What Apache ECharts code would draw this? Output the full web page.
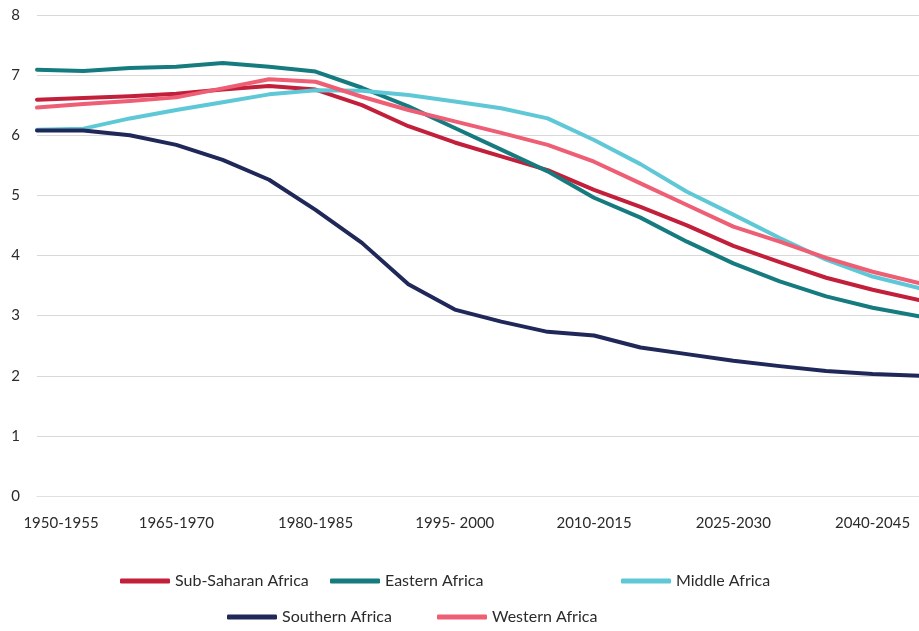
<!DOCTYPE html>
<html>
<head>
<meta charset="utf-8">
<script src="https://cdn.jsdelivr.net/npm/echarts@6/dist/echarts.min.js"></script>
<style>
html,body{margin:0;padding:0;background:#fff;}
#chart{width:919px;height:631px;}
</style>
</head>
<body>
<div id="chart"></div>
<script>
const categories = ['1950-1955','1955-1960','1960-1965','1965-1970','1970-1975','1975-1980','1980-1985','1985-1990','1990-1995','1995- 2000','2000-2005','2005-2010','2010-2015','2015-2020','2020-2025','2025-2030','2030-2035','2035-2040','2040-2045','2045-2050'];
const subSaharan = [6.59, 6.62, 6.65, 6.69, 6.76, 6.82, 6.76, 6.50, 6.15, 5.88, 5.65, 5.42, 5.09, 4.81, 4.50, 4.16, 3.89, 3.63, 3.43, 3.26];
const eastern    = [7.09, 7.07, 7.12, 7.14, 7.20, 7.14, 7.06, 6.79, 6.48, 6.12, 5.76, 5.40, 4.96, 4.63, 4.23, 3.87, 3.57, 3.32, 3.13, 2.99];
const middle     = [6.09, 6.11, 6.28, 6.42, 6.55, 6.68, 6.75, 6.74, 6.67, 6.56, 6.45, 6.28, 5.92, 5.52, 5.06, 4.68, 4.29, 3.93, 3.65, 3.46];
const southern   = [6.08, 6.08, 6.00, 5.84, 5.59, 5.26, 4.76, 4.21, 3.52, 3.10, 2.90, 2.73, 2.67, 2.47, 2.36, 2.25, 2.16, 2.08, 2.03, 2.00];
const western    = [6.46, 6.52, 6.57, 6.63, 6.78, 6.93, 6.89, 6.64, 6.42, 6.23, 6.04, 5.84, 5.56, 5.20, 4.84, 4.48, 4.23, 3.96, 3.73, 3.54];
const yTicks = [0, 1, 2, 3, 4, 5, 6, 7, 8];

const names = ['Sub-Saharan Africa','Eastern Africa','Middle Africa','Southern Africa','Western Africa'];
const colors = ['#C21F3A','#167B7E','#5FC8D7','#1F2859','#EE5E74'];
const datasets = [subSaharan, eastern, middle, southern, western];
const legendPos = [[120,571],[330,571],[621,571],[227,607],[437,607]];

const FONT = 'Lato';
const chart = echarts.init(document.getElementById('chart'));
chart.setOption({
  animation: false,
  color: colors,
  grid: {left: 37, right: 0, top: 15, bottom: 135, containLabel: false},
  xAxis: {
    type: 'category',
    data: categories,
    boundaryGap: false,
    axisLine: {show: true, lineStyle: {color: '#e0e0e0', width: 1}},
    axisTick: {show: false},
    splitLine: {show: false},
    axisLabel: {
      interval: 2,
      margin: 20,
      color: '#2b2b2b',
      fontFamily: FONT,
      fontSize: 15,
      formatter: function (v, i) { return i === 0 ? '{first|' + v + '}' : v; },
      rich: {first: {padding: [0, 0, 0, 48], fontFamily: FONT, fontSize: 15, color: '#2b2b2b'}}
    }
  },
  yAxis: {
    type: 'value',
    min: yTicks[0],
    max: yTicks[yTicks.length - 1],
    interval: 1,
    axisLine: {show: false},
    axisTick: {show: false},
    splitLine: {lineStyle: {color: '#d9d9d9', width: 1}},
    axisLabel: {margin: 17, color: '#2b2b2b', fontFamily: FONT, fontSize: 15}
  },
  legend: names.map((n, i) => ({
    data: [n],
    left: legendPos[i][0],
    top: legendPos[i][1],
    padding: 0,
    icon: 'roundRect',
    itemWidth: 50,
    itemHeight: 5,
    textStyle: {fontFamily: FONT, fontSize: 16, color: '#2b2b2b', lineHeight: 20}
  })),
  series: names.map((n, i) => ({
    name: n,
    type: 'line',
    data: datasets[i],
    showSymbol: false,
    symbol: 'none',
    lineStyle: {width: 4, color: colors[i], cap: 'round', join: 'round'},
    itemStyle: {color: colors[i]}
  }))
});
</script>
</body>
</html>
